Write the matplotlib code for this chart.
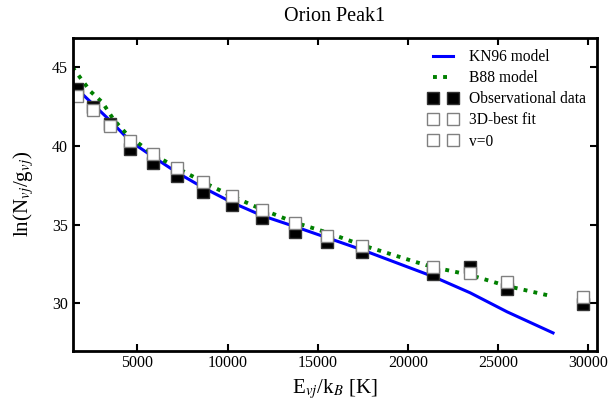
import numpy as np
import matplotlib
matplotlib.use('Agg')
import matplotlib.pyplot as plt

plt.rcParams['font.family'] = ['Liberation Serif', 'DejaVu Serif']
plt.rcParams['mathtext.fontset'] = 'stix'

# observational data (black) and 3D-best fit (white)
e_obs = [1670, 2510, 3500, 4610, 5890, 7220, 8660, 10270, 11930, 13760,
         15530, 17470, 21410, 23460, 25510, 29720]
ln_obs = [43.6, 42.45, 41.4, 39.84, 38.95, 38.12, 37.1, 36.27, 35.45, 34.55,
          33.92, 33.28, 31.88, 32.3, 30.9, 29.97]
ln_fit = [43.15, 42.26, 41.3, 40.35, 39.52, 38.63, 37.74, 36.85, 35.95, 35.13,
          34.3, 33.66, 32.32, 31.94, 31.37, 30.41]
# v=0 (no separate points visible)
e_v0 = []
ln_v0 = []

# KN96 model
e_kn = [1400, 3500, 4610, 5890, 7220, 8660, 10270, 11930, 13760, 15530,
        17470, 21410, 23460, 25510, 28060]
ln_kn = [43.9, 41.6, 40.3, 39.3, 38.3, 37.35, 36.4, 35.57, 34.87, 34.17,
         33.4, 31.7, 30.67, 29.46, 28.12]

# B88 model
e_b88 = [1400, 2400, 3060, 3670, 4450, 5890, 7220, 8660, 10270, 11930,
         13760, 15530, 17470, 20520, 21410, 23460, 25510, 27890]
ln_b88 = [45.0, 43.47, 42.77, 41.7, 40.7, 39.46, 38.6, 37.7, 36.8, 35.96,
          35.13, 34.5, 33.7, 32.6, 32.3, 31.8, 31.1, 30.48]

fig = plt.figure(figsize=(6.11, 4.09), dpi=100)
ax = fig.add_axes([0.1187, 0.143, 0.8584, 0.7653])

ax.plot(e_kn, ln_kn, color='#0000ff', lw=2.2, label='KN96 model')
ax.plot(e_b88, ln_b88, color='#008000', lw=2.8, ls=(0, (1, 1.6)), label='B88 model')
ax.plot(e_obs, ln_obs, 's', ms=8, mfc='black', mec='#333333', mew=1,
        label='Observational data')
ax.plot(e_obs, ln_fit, 's', ms=8, mfc='white', mec='#808080', mew=1,
        label='3D-best fit')
ax.plot(e_v0, ln_v0, 's', ms=8, mfc='white', mec='#808080', mew=1,
        label='v=0')

ax.set_xlim(1400, 30500)
ax.set_ylim(27, 46.9)
ax.set_xticks([5000, 10000, 15000, 20000, 25000, 30000])
ax.set_yticks([30, 35, 40, 45])
ax.tick_params(direction='in', top=True, right=True, length=5, width=1.5,
               labelsize=11.5)
for s in ax.spines.values():
    s.set_linewidth(2)

ax.set_title('Orion Peak1', fontsize=14.5, pad=12)
ax.set_xlabel(r'E$_{vj}$/k$_B$ [K]', fontsize=15)
ax.set_ylabel(r'ln(N$_{vj}$/g$_{vj}$)', fontsize=15, labelpad=11)

ax.legend(loc='upper right', frameon=False, numpoints=2, fontsize=11.2,
          handlelength=1.9, handletextpad=0.7, labelspacing=0.33,
          bbox_to_anchor=(1.005, 1.008))

fig.savefig('out.png', dpi=100)
